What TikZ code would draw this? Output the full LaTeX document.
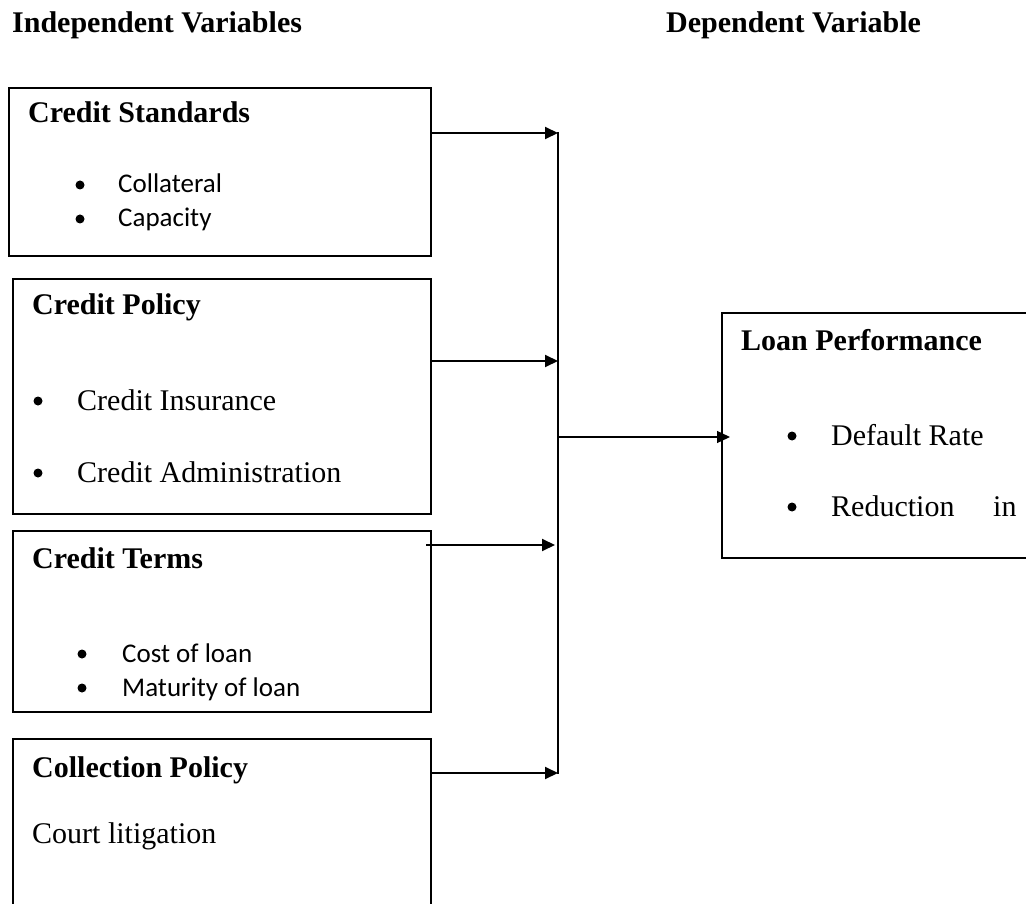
\documentclass[tikz,border=0pt]{standalone}
\usepackage{fontspec}
\setmainfont{Liberation Serif}
\newfontfamily\calibri{Carlito}
\usetikzlibrary{arrows.meta}
\tikzset{
  box/.style={draw=black, line width=2pt, rectangle, anchor=north west, inner sep=0pt},
  head/.style={anchor=base west, inner sep=0pt, font=\fontsize{30}{36}\selectfont\bfseries},
  tms/.style={anchor=base west, inner sep=0pt, font=\fontsize{30}{36}\selectfont},
  cal/.style={anchor=base west, inner sep=0pt, font=\fontsize{27}{32}\selectfont\calibri},
  dot/.style={circle, fill=black, inner sep=0pt, minimum size=9pt},
  link/.style={line width=2pt, -{Triangle[length=13pt,width=12pt]}},
  feed/.style={line width=2pt},
}
\begin{document}
\begin{tikzpicture}[x=1pt,y=-1pt]
\useasboundingbox (0,0) rectangle (1026,904);
% titles
\node[head] (tind) at (12,33) {Independent Variables};
\node[head] (tdep) at (666,33) {Dependent Variable};
% boxes
\node[box, minimum width=422pt, minimum height=168pt] (b1) at (8,87) {};
\node[box, minimum width=418pt, minimum height=235pt] (b2) at (12,278) {};
\node[box, minimum width=418pt, minimum height=181pt] (b3) at (12,530) {};
\node[box, minimum width=418pt, minimum height=200pt] (b4) at (12,738) {};
\node[box, minimum width=330pt, minimum height=245pt] (b5) at (721,312) {};
% box 1
\node[head] (h1) at (28,123) {Credit Standards};
\node[dot] (d11) at (80,185) {};
\node[cal] (t11) at (118,193) {Collateral};
\node[dot] (d12) at (80,219) {};
\node[cal] (t12) at (118,227) {Capacity};
% box 2
\node[head] (h2) at (32,315) {Credit Policy};
\node[dot] (d21) at (38,401) {};
\node[tms] (t21) at (77,410) {Credit Insurance};
\node[dot] (d22) at (38,473) {};
\node[tms] (t22) at (77,482) {Credit Administration};
% box 3
\node[head] (h3) at (32,568) {Credit Terms};
\node[dot] (d31) at (82,654) {};
\node[cal] (t31) at (122,662) {Cost of loan};
\node[dot] (d32) at (82,688) {};
\node[cal] (t32) at (122,696) {Maturity of loan};
% box 4
\node[head] (h4) at (32,777) {Collection Policy};
\node[tms] (t41) at (32,843) {Court litigation};
% box 5
\node[head] (h5) at (741,350) {Loan Performance};
\node[dot] (d51) at (792,436) {};
\node[tms] (t51) at (831,445) {Default Rate};
\node[dot] (d52) at (792,507) {};
\node[tms] (t52) at (831,516) {Reduction};
\node[tms] (t53) at (993,516) {in};
% connectors
\coordinate (j1) at (558,133);
\coordinate (j2) at (558,361);
\coordinate (j3) at (555,545);
\coordinate (j4) at (558,773);
\coordinate (jtop) at (558,132);
\coordinate (jbot) at (558,774);
\coordinate (jmid) at (558,437);
\coordinate (in5) at (730,437);
\coordinate (s3) at (426,545);
\draw[link] (b1.east |- j1) -- (j1);
\draw[link] (b2.east |- j2) -- (j2);
\draw[link] (s3) -- (j3);
\draw[link] (b4.east |- j4) -- (j4);
\draw[feed] (jtop) -- (jbot);
\draw[line width=1.4pt, -{Triangle[length=13pt,width=12pt]}] (jmid) -- (in5);
\end{tikzpicture}
\end{document}
